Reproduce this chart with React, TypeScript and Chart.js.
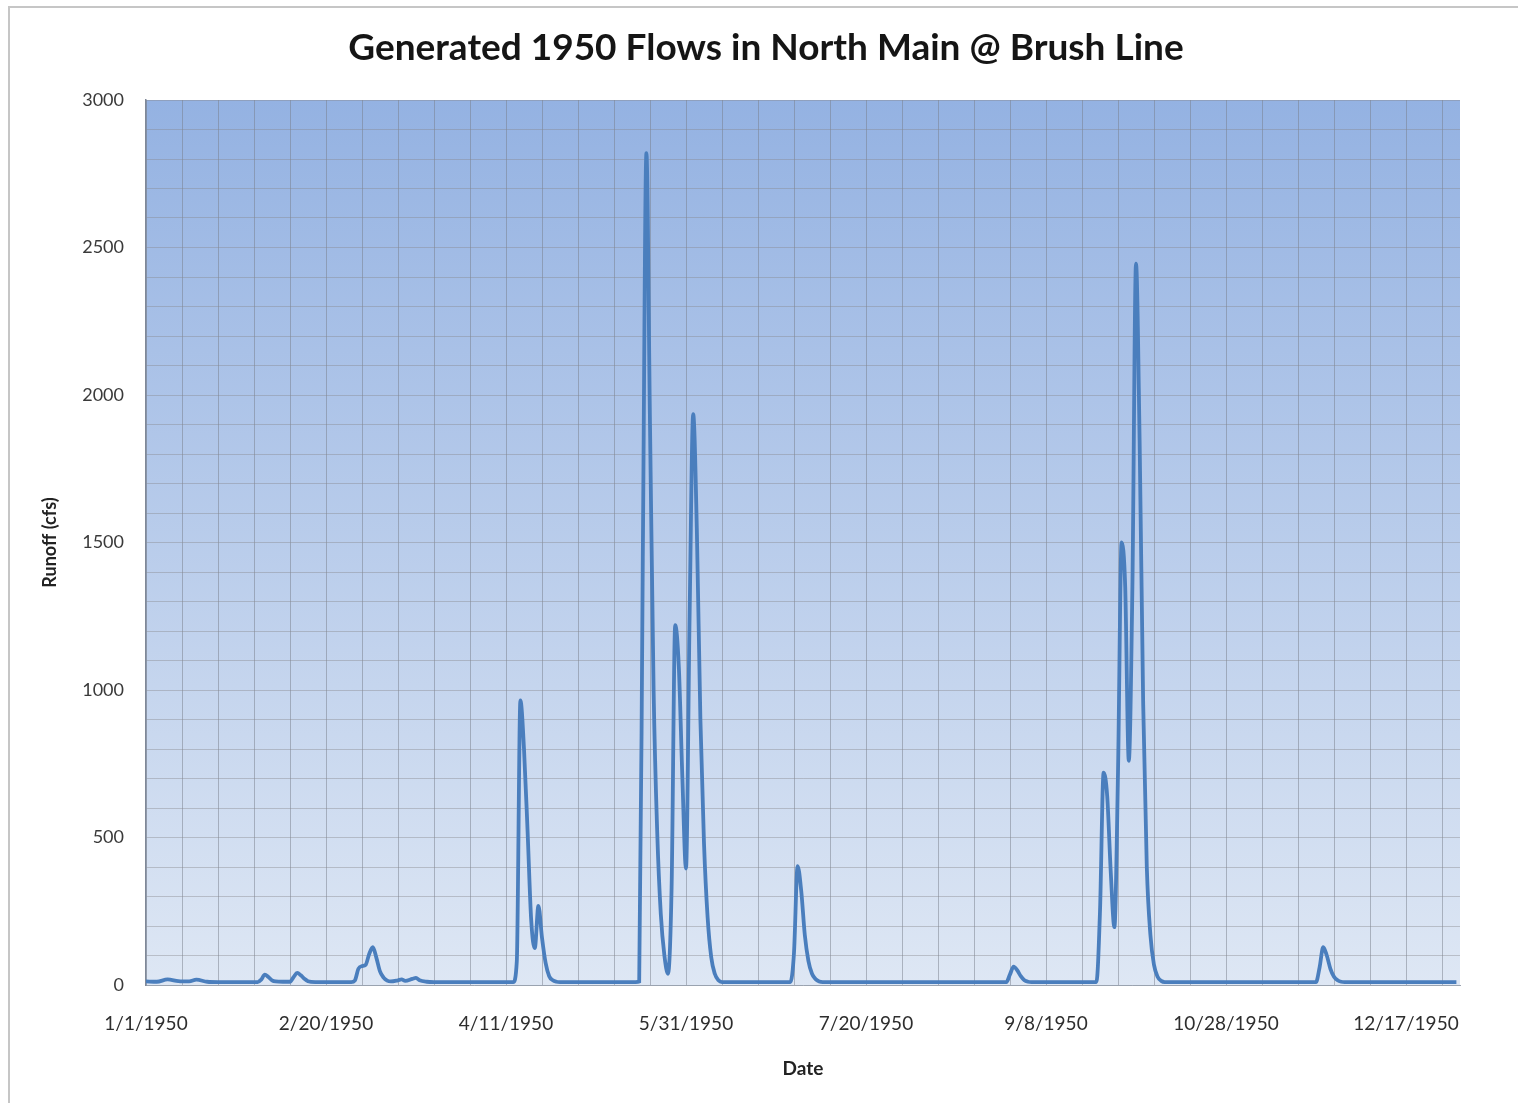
import { useEffect, useRef } from "react";
import { Chart, registerables } from "chart.js";

Chart.register(...registerables);

const chartTitle = "Generated 1950 Flows in North Main @ Brush Line";
const yAxisTitle = "Runoff (cfs)";
const xAxisTitle = "Date";

// day of year (0 = 1/1/1950) and generated runoff (cfs)
const dayOfYear = [
  0, 3, 6, 9, 12, 14, 17, 20, 31, 32, 33, 34, 35, 36, 38, 40, 41, 42, 43, 44, 45, 47,
  57, 58, 59, 60, 61, 62, 63, 64, 65, 66, 67, 68, 70, 71, 72, 74, 75, 76, 78, 80,
  102, 103, 104, 105, 106, 107, 108, 109, 110, 111, 112, 113, 114, 115,
  136, 137, 138, 139, 140, 141, 142, 143, 144, 145, 146, 147, 148, 149, 150, 151, 152, 153, 154, 155, 156, 157, 158, 159, 160,
  179, 180, 181, 182, 183, 184, 185, 186, 187, 188,
  239, 240, 241, 242, 243, 244, 245, 246,
  264, 265, 266, 267, 268, 269, 270, 271, 272, 273, 274, 275, 276, 277, 278, 279, 280, 281, 282, 283,
  325, 326, 327, 328, 329, 330, 331, 332, 333,
  364,
];
const runoffCfs = [
  12, 11, 19, 13, 12, 18, 11, 10, 10, 18, 35, 27, 16, 12, 11, 11, 27, 41, 33, 21, 13, 10,
  10, 15, 55, 64, 68, 105, 128, 92, 46, 25, 15, 12, 16, 19, 14, 21, 24, 16, 11, 10,
  10, 80, 965, 800, 520, 220, 125, 268, 160, 75, 30, 16, 11, 10,
  10, 12, 1450, 2820, 1900, 1000, 520, 240, 100, 38, 330, 1220, 1080, 700, 395, 1250, 1935, 1550, 900, 480, 230, 95, 38, 16, 10,
  10, 110, 403, 320, 170, 82, 38, 20, 12, 10,
  10, 36, 62, 50, 30, 16, 11, 10,
  10, 250, 720, 640, 380, 196, 720, 1500, 1350, 760, 1350, 2445, 1850, 950, 400, 170, 68, 28, 14, 10,
  10, 60, 128, 100, 55, 28, 16, 11, 10,
  10,
];

const dateTickDays = [0, 50, 100, 150, 200, 250, 300, 350];
const dateTickLabels = [
  "1/1/1950", "2/20/1950", "4/11/1950", "5/31/1950",
  "7/20/1950", "9/8/1950", "10/28/1950", "12/17/1950",
];
const gridDays = [
  0, 10, 20, 30, 40, 50, 60, 70, 80, 90, 100, 110, 120, 130, 140, 150, 160, 170, 180,
  190, 200, 210, 220, 230, 240, 250, 260, 270, 280, 290, 300, 310, 320, 330, 340, 350, 360,
];
const yMin = 0;
const yMax = 3000;
const yGridStep = 100;
const yLabelStep = 500;

const FONT = 'Lato, "Open Sans", "DejaVu Sans", sans-serif';

export default function App() {
  const canvasRef = useRef<HTMLCanvasElement>(null);

  useEffect(() => {
    const canvas = canvasRef.current;
    if (!canvas) return;

    const bgPlugin = {
      id: "plotBackground",
      beforeDraw(chart: any) {
        const { ctx, chartArea: a } = chart;
        const g = ctx.createLinearGradient(0, a.top, 0, a.bottom);
        g.addColorStop(0, "rgb(148,178,226)");
        g.addColorStop(1, "rgb(222,231,244)");
        ctx.save();
        ctx.fillStyle = g;
        ctx.fillRect(a.left, a.top, a.right - a.left, a.bottom - a.top);
        ctx.restore();
      },
    };

    const titlePlugin = {
      id: "offsetTitle",
      afterDraw(chart: any) {
        const ctx = chart.ctx;
        ctx.save();
        ctx.font = `bold 37px ${FONT}`;
        ctx.fillStyle = "#151515";
        ctx.textAlign = "center";
        ctx.textBaseline = "middle";
        ctx.fillText(chartTitle, 766, 48);
        ctx.restore();
      },
    };

    const chart = new Chart(canvas, {
      type: "line",
      data: {
        datasets: [
          {
            label: "Runoff",
            data: dayOfYear.map((d, i) => ({ x: d, y: runoffCfs[i] })),
            borderColor: "#4A7EBD",
            borderWidth: 3.8,
            pointRadius: 0,
            cubicInterpolationMode: "monotone",
            fill: false,
          },
        ],
      },
      options: {
        responsive: false,
        animation: false,
        devicePixelRatio: 1,
        layout: { padding: { top: 100, right: 58, left: 0, bottom: 0 } },
        plugins: {
          legend: { display: false },
          title: { display: false },
          tooltip: { enabled: false },
        },
        scales: {
          x: {
            type: "linear",
            min: 0,
            max: 365,
            afterBuildTicks: (scale: any) => {
              scale.ticks = gridDays.map((v) => ({ value: v }));
            },
            afterFit: (scale: any) => {
              scale.height = 118;
            },
            ticks: {
              autoSkip: false,
              maxRotation: 0,
              minRotation: 0,
              padding: 27,
              color: "#2e2e2e",
              font: { family: FONT, size: 19 },
              callback: (value: any) => {
                const i = dateTickDays.indexOf(Number(value));
                return i >= 0 ? dateTickLabels[i] : "";
              },
            },
            grid: { color: "rgba(120,126,138,0.5)", lineWidth: 1, drawTicks: false },
            border: { display: true, color: "#9aa3b0", width: 1 },
            title: {
              display: true,
              text: xAxisTitle,
              color: "#222",
              font: { family: FONT, size: 19, weight: "bold" },
              padding: { top: 0, bottom: 23 },
            },
          },
          y: {
            min: yMin,
            max: yMax,
            afterFit: (scale: any) => {
              scale.width = 146;
            },
            ticks: {
              stepSize: yGridStep,
              autoSkip: false,
              padding: 22,
              color: "#3a3a3a",
              font: { family: FONT, size: 18 },
              callback: (value: any) => (Number(value) % yLabelStep === 0 ? String(value) : ""),
            },
            grid: { color: "rgba(135,135,140,0.42)", lineWidth: 1, drawTicks: false },
            border: { display: true, color: "#7f8898", width: 1.5 },
            title: {
              display: true,
              text: yAxisTitle,
              color: "#222",
              font: { family: FONT, size: 18, weight: "bold" },
              padding: { top: 39, bottom: 0 },
            },
          },
        },
      },
      plugins: [bgPlugin, titlePlugin],
    } as any);

    return () => chart.destroy();
  }, []);

  return (
    <div
      style={{
        position: "fixed",
        left: 0,
        top: 0,
        width: 1518,
        height: 1103,
        overflow: "hidden",
        background: "#fff",
      }}
    >
      <div
        style={{
          position: "absolute",
          left: 8,
          top: 6,
          width: 1530,
          height: 1120,
          borderTop: "2px solid #c6c6c6",
          borderLeft: "2px solid #c6c6c6",
        }}
      />
      <canvas
        ref={canvasRef}
        width={1518}
        height={1103}
        style={{ position: "absolute", left: 0, top: 0, width: 1518, height: 1103 }}
      />
    </div>
  );
}
